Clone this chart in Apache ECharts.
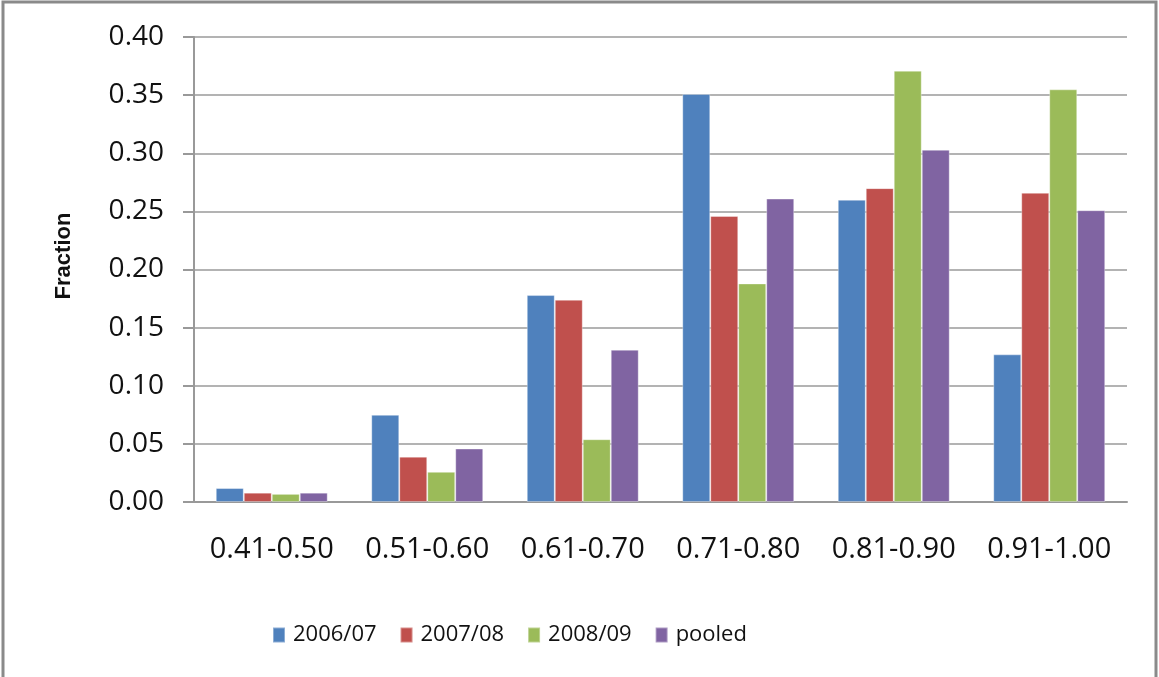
<!DOCTYPE html>
<html>
<head>
<meta charset="utf-8">
<script src="https://cdn.jsdelivr.net/npm/echarts@6/dist/echarts.min.js"></script>
<style>
  html, body { margin: 0; padding: 0; background: #fff; }
  #chart { width: 1159px; height: 677px; }
</style>
</head>
<body>
<div id="chart"></div>
<script>
// Score bands on the category axis
const categories = ['0.41-0.50', '0.51-0.60', '0.61-0.70', '0.71-0.80', '0.81-0.90', '0.91-1.00'];

// Fraction of cases falling in each band, per season and pooled
const s2006 = [0.012, 0.075, 0.178, 0.351, 0.260, 0.127];
const s2007 = [0.008, 0.039, 0.174, 0.246, 0.270, 0.266];
const s2008 = [0.007, 0.026, 0.054, 0.188, 0.371, 0.355];
const pooled = [0.008, 0.046, 0.131, 0.261, 0.303, 0.251];

const seriesNames = ['2006/07', '2007/08', '2008/09', 'pooled'];
const yTicks = [0, 0.05, 0.10, 0.15, 0.20, 0.25, 0.30, 0.35, 0.40];

const colors = ['#4F81BD', '#C0504D', '#9BBB59', '#8064A2'];
const FONT = '"Open Sans", "Liberation Sans", sans-serif';

const chart = echarts.init(document.getElementById('chart'), null, { renderer: 'canvas' });

const values = [s2006, s2007, s2008, pooled];
const series = seriesNames.map((name, i) => ({
  name: name,
  type: 'bar',
  data: values[i],
  barGap: '0%',
  barCategoryGap: '28%',
  itemStyle: {
    color: colors[i],
    borderColor: 'rgba(255,255,255,0.35)',
    borderWidth: 1
  },
  emphasis: { disabled: true }
}));

chart.setOption({
  animation: false,
  color: colors,
  grid: { left: 194, right: 32, top: 37, bottom: 175, containLabel: false },
  legend: {
    left: 267,
    top: 619,
    itemWidth: 12,
    itemHeight: 15,
    itemGap: 23,
    icon: 'rect',
    textStyle: { fontFamily: FONT, fontSize: 22, color: '#111', padding: [0, 0, 0, 3] },
    data: seriesNames
  },
  xAxis: {
    type: 'category',
    data: categories,
    axisLine: { lineStyle: { color: '#999', width: 2 } },
    axisTick: { show: false },
    axisLabel: { interval: 0, fontFamily: FONT, fontSize: 29, color: '#111', margin: 33 }
  },
  yAxis: {
    type: 'value',
    min: yTicks[0],
    max: yTicks[yTicks.length - 1],
    interval: 0.05,
    axisLine: { show: true, lineStyle: { color: '#999', width: 2 } },
    axisTick: { show: true, inside: false, length: 11, lineStyle: { color: '#999', width: 2 } },
    splitLine: { lineStyle: { color: '#b3b3b3', width: 2 } },
    axisLabel: {
      fontFamily: FONT, fontSize: 28, color: '#111', margin: 30,
      formatter: v => v.toFixed(2)
    }
  },
  graphic: [
    {
      type: 'rect',
      shape: { x: 3, y: 2, width: 1153, height: 720 },
      style: { fill: 'none', stroke: '#8a8a8a', lineWidth: 3 },
      silent: true
    },
    {
      type: 'text',
      x: 64,
      y: 256,
      rotation: Math.PI / 2,
      style: {
        text: 'Fraction',
        fontFamily: '"Liberation Sans", sans-serif',
        fontWeight: 'bold',
        fontSize: 22,
        fill: '#111',
        align: 'center',
        verticalAlign: 'middle'
      }
    }
  ],
  series: series
});
</script>
</body>
</html>
